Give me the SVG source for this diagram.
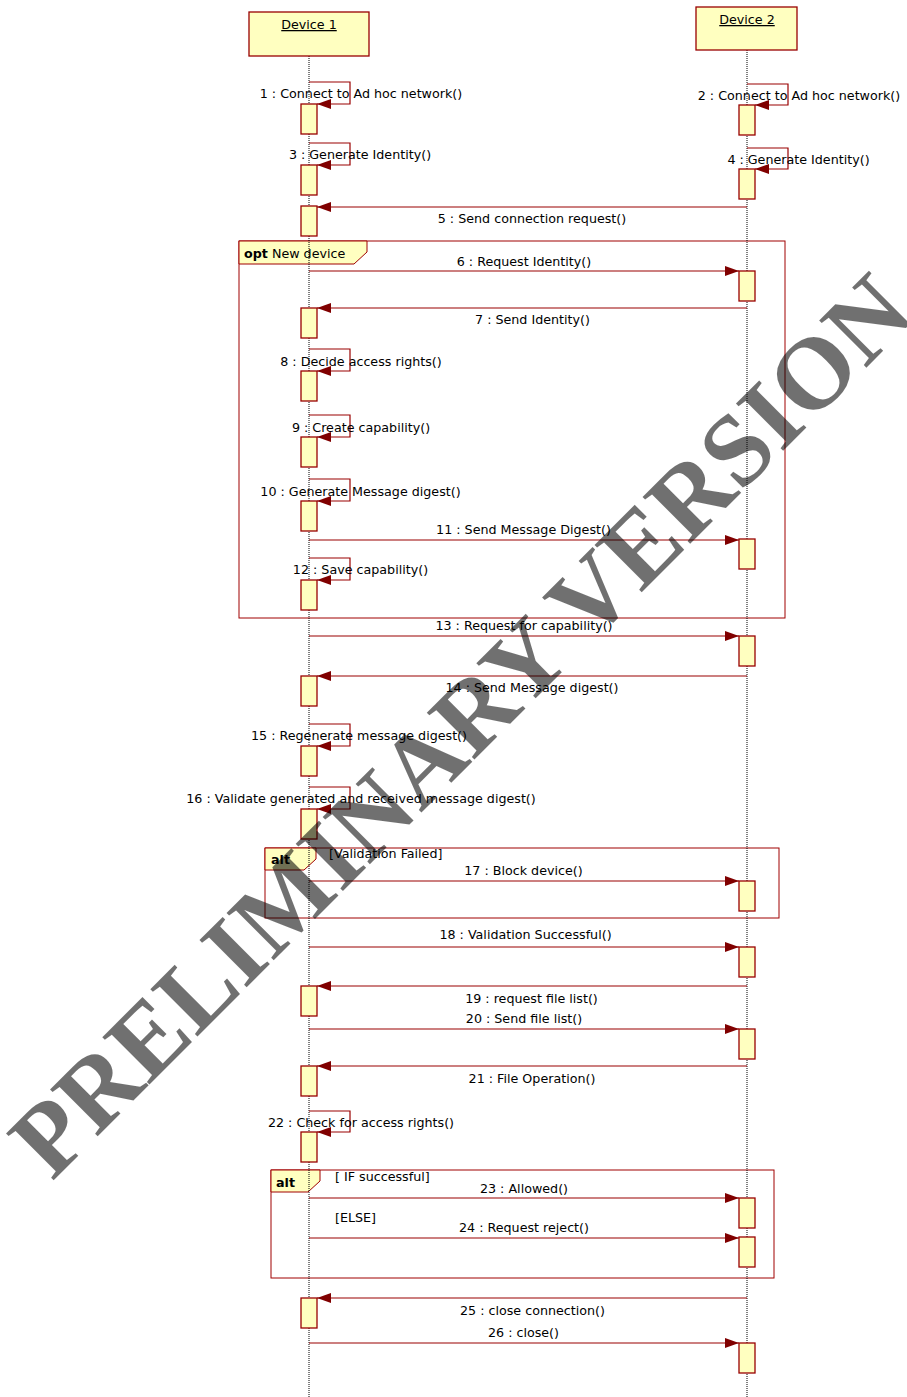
<svg xmlns="http://www.w3.org/2000/svg" width="907" height="1397" viewBox="0 0 907 1397">
  <style>
    .head { fill: #FFFFC0; stroke: #990000; stroke-width: 1.3; }
    .act { fill: #FFFFC0; stroke: #990000; stroke-width: 1.3; }
    .life { stroke: #000; stroke-width: 1; stroke-dasharray: 1 1; fill: none; }
    .msg { stroke: #990000; stroke-width: 1.2; fill: none; marker-end: url(#arrow); }
    .frame { fill: none; stroke: #A00000; stroke-width: 1; }
    .tab { fill: #FFFFC0; stroke: #A00000; stroke-width: 1; }
    text { font-family: "DejaVu Sans", Verdana, sans-serif; font-size: 12.7px; fill: #000; }
    .c { text-anchor: middle; }
    .b { font-weight: bold; }
    .u { text-decoration: underline; }
    .wm { font-family: "Liberation Serif", "Times New Roman", serif; font-weight: bold; font-size: 102px; fill: #000; fill-opacity: 0.56; }
  </style>
  <defs>
    <marker id="arrow" markerUnits="userSpaceOnUse" markerWidth="15" markerHeight="11" refX="14" refY="5" orient="auto">
      <path d="M0,0 L14,5 L0,10 z" fill="#800000"/>
    </marker>
  </defs>

  <rect width="907" height="1397" fill="#fff"/>

  <!-- combined fragments -->
  <g id="frame-opt">
    <rect class="frame" x="239" y="241" width="546" height="377"/>
    <path class="tab" d="M239,241 H367 V252 L354,264 H239 Z"/>
    <text x="244" y="258"><tspan class="b">opt</tspan> New device</text>
  </g>
  <g id="frame-alt1">
    <rect class="frame" x="265" y="848" width="514" height="70"/>
    <path class="tab" d="M265,848 H316 V859 L304,870 H265 Z"/>
    <text class="b" x="271" y="864">alt</text>
    <text x="329" y="858">[Validation Failed]</text>
  </g>
  <g id="frame-alt2">
    <rect class="frame" x="271" y="1170" width="503" height="108"/>
    <path class="tab" d="M271,1170 H320 V1181 L308,1192 H271 Z"/>
    <text class="b" x="276" y="1187">alt</text>
    <text x="335" y="1181">[ IF successful]</text>
    <text x="335" y="1222">[ELSE]</text>
  </g>

  <!-- lifelines -->
  <g id="device1">
    <line class="life" x1="309" y1="56" x2="309" y2="1397"/>
    <rect class="head" x="249" y="12" width="120" height="44"/>
    <text class="c u" x="309" y="29">Device 1</text>
  </g>
  <g id="device2">
    <line class="life" x1="747" y1="50" x2="747" y2="1397"/>
    <rect class="head" x="696" y="7" width="101" height="43"/>
    <text class="c u" x="747" y="24">Device 2</text>
  </g>

  <!-- messages -->
  <g id="connectors">
    <path class="msg" d="M309,82 H350 V104 H317"/>
    <path class="msg" d="M747,84 H788 V105 H755"/>
    <path class="msg" d="M309,143 H350 V165 H317"/>
    <path class="msg" d="M747,148 H788 V169 H755"/>
    <path class="msg" d="M747,207 H317"/>
    <path class="msg" d="M309,271 H739"/>
    <path class="msg" d="M747,308 H317"/>
    <path class="msg" d="M309,349 H350 V371 H317"/>
    <path class="msg" d="M309,415 H350 V437 H317"/>
    <path class="msg" d="M309,479 H350 V501 H317"/>
    <path class="msg" d="M309,540 H739"/>
    <path class="msg" d="M309,558 H350 V580 H317"/>
    <path class="msg" d="M309,636 H739"/>
    <path class="msg" d="M747,676 H317"/>
    <path class="msg" d="M309,724 H350 V746 H317"/>
    <path class="msg" d="M309,787 H350 V809 H317"/>
    <path class="msg" d="M309,881 H739"/>
    <path class="msg" d="M309,947 H739"/>
    <path class="msg" d="M747,986 H317"/>
    <path class="msg" d="M309,1029 H739"/>
    <path class="msg" d="M747,1066 H317"/>
    <path class="msg" d="M309,1111 H350 V1132 H317"/>
    <path class="msg" d="M309,1198 H739"/>
    <path class="msg" d="M309,1238 H739"/>
    <path class="msg" d="M747,1298 H317"/>
    <path class="msg" d="M309,1343 H739"/>
  </g>

  <!-- activation bars -->
  <g id="activations1">
    <rect class="act" x="301" y="104" width="16" height="30"/>
    <rect class="act" x="301" y="165" width="16" height="30"/>
    <rect class="act" x="301" y="206" width="16" height="30"/>
    <rect class="act" x="301" y="308" width="16" height="30"/>
    <rect class="act" x="301" y="371" width="16" height="30"/>
    <rect class="act" x="301" y="437" width="16" height="30"/>
    <rect class="act" x="301" y="501" width="16" height="30"/>
    <rect class="act" x="301" y="580" width="16" height="30"/>
    <rect class="act" x="301" y="676" width="16" height="30"/>
    <rect class="act" x="301" y="746" width="16" height="30"/>
    <rect class="act" x="301" y="809" width="16" height="30"/>
    <rect class="act" x="301" y="986" width="16" height="30"/>
    <rect class="act" x="301" y="1066" width="16" height="30"/>
    <rect class="act" x="301" y="1132" width="16" height="30"/>
    <rect class="act" x="301" y="1298" width="16" height="30"/>
  </g>
  <g id="activations2">
    <rect class="act" x="739" y="105" width="16" height="30"/>
    <rect class="act" x="739" y="169" width="16" height="30"/>
    <rect class="act" x="739" y="271" width="16" height="30"/>
    <rect class="act" x="739" y="539" width="16" height="30"/>
    <rect class="act" x="739" y="636" width="16" height="30"/>
    <rect class="act" x="739" y="881" width="16" height="30"/>
    <rect class="act" x="739" y="947" width="16" height="30"/>
    <rect class="act" x="739" y="1029" width="16" height="30"/>
    <rect class="act" x="739" y="1198" width="16" height="30"/>
    <rect class="act" x="739" y="1237" width="16" height="30"/>
    <rect class="act" x="739" y="1343" width="16" height="30"/>
  </g>

  <!-- message labels -->
  <g id="labels">
    <text class="c" x="361" y="97.5">1 : Connect to Ad hoc network()</text>
    <text class="c" x="799" y="99.5">2 : Connect to Ad hoc network()</text>
    <text class="c" x="360" y="158.5">3 : Generate Identity()</text>
    <text class="c" x="798.5" y="163.5">4 : Generate Identity()</text>
    <text class="c" x="532" y="222.5">5 : Send connection request()</text>
    <text class="c" x="524" y="265.5">6 : Request Identity()</text>
    <text class="c" x="532.5" y="323.5">7 : Send Identity()</text>
    <text class="c" x="361" y="365.5">8 : Decide access rights()</text>
    <text class="c" x="361" y="431.5">9 : Create capability()</text>
    <text class="c" x="360.5" y="495.5">10 : Generate Message digest()</text>
    <text class="c" x="523.5" y="533.5">11 : Send Message Digest()</text>
    <text class="c" x="360.5" y="573.5">12 : Save capability()</text>
    <text class="c" x="524" y="629.5">13 : Request for capability()</text>
    <text class="c" x="532" y="691.5">14 : Send Message digest()</text>
    <text class="c" x="359" y="739.5">15 : Regenerate message digest()</text>
    <text class="c" x="361" y="802.5">16 : Validate generated and received message digest()</text>
    <text class="c" x="523.5" y="874.5">17 : Block device()</text>
    <text class="c" x="525.5" y="938.5">18 : Validation Successful()</text>
    <text class="c" x="531.5" y="1002.5">19 : request file list()</text>
    <text class="c" x="524" y="1022.5">20 : Send file list()</text>
    <text class="c" x="532" y="1082.5">21 : File Operation()</text>
    <text class="c" x="361" y="1126.5">22 : Check for access rights()</text>
    <text class="c" x="524" y="1192.5">23 : Allowed()</text>
    <text class="c" x="524" y="1231.5">24 : Request reject()</text>
    <text class="c" x="532.5" y="1314.5">25 : close connection()</text>
    <text class="c" x="523.5" y="1336.5">26 : close()</text>
  </g>

  <!-- draft watermark -->
  <text class="wm" transform="translate(52,1182) rotate(-45)">PRELIMINARY VERSION</text>
</svg>
